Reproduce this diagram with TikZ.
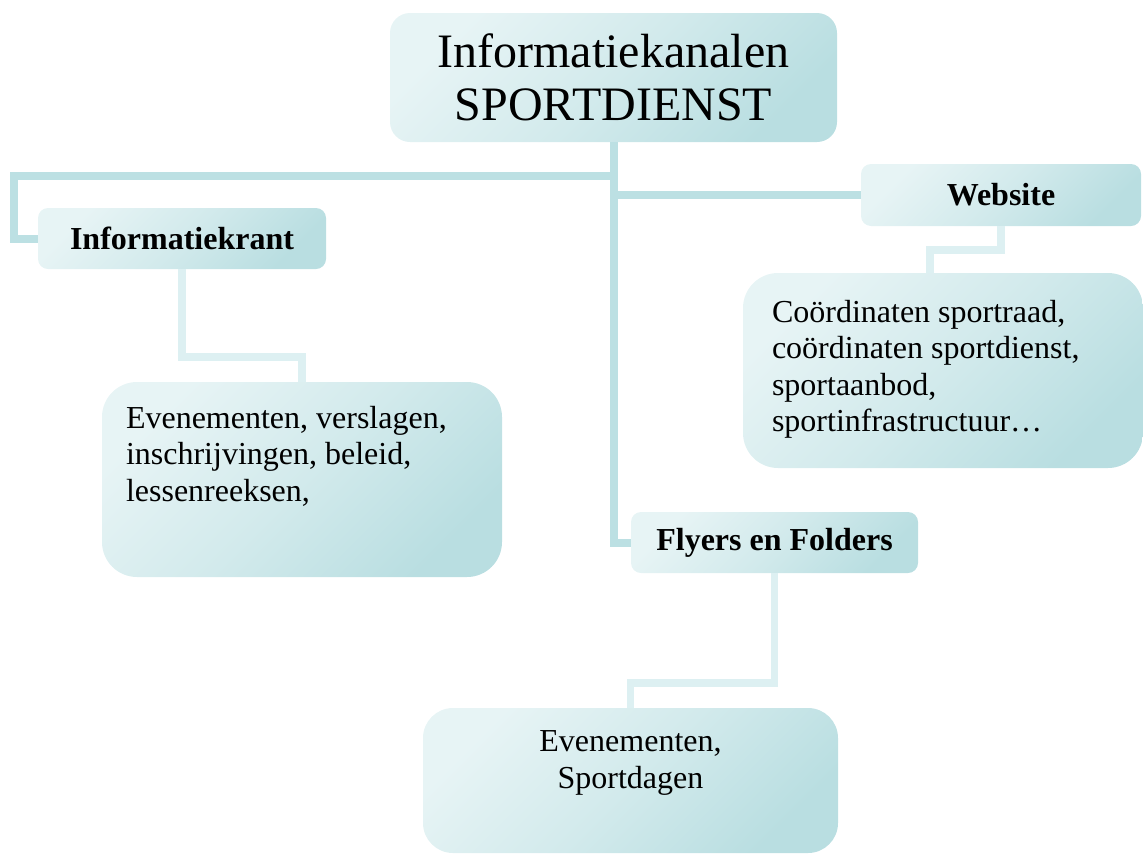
\documentclass[tikz,border=0pt]{standalone}
\usepackage{fontspec}
\setmainfont{Liberation Serif}
\definecolor{boxlight}{HTML}{E7F4F5}
\definecolor{boxdark}{HTML}{B9DEE1}
\definecolor{trunkline}{HTML}{BCE0E3}
\definecolor{leafline}{HTML}{DDF0F2}

\begin{document}
\begin{tikzpicture}[x=1pt,y=-1pt,
  chanbox/.style={rounded corners=#1, top color=boxlight, bottom color=boxdark,
    middle color=boxlight!55!boxdark, shading angle=45, inner sep=0pt},
  chanbox/.default=10pt,
  headtext/.style={font=\fontsize{32}{37}\selectfont\bfseries},
  bodytext/.style={font=\fontsize{32}{36.5}\selectfont, inner sep=0pt, align=left},
  trunk/.style={trunkline, line width=8pt},
  twig/.style={leafline, line width=7.5pt}]
\useasboundingbox (0,0) rectangle (1143,855);
%\draw[step=50pt,gray,very thin] (0,0) grid (1143,855); %background grid

% top node
\node[chanbox=20pt, minimum width=447pt, minimum height=129pt, align=center,
  font=\fontsize{48}{53}\selectfont] (top) at (613.5,77.5)
  {Informatiekanalen\\SPORTDIENST};

% channels
\node[chanbox, headtext, minimum width=288pt, minimum height=61pt] (krant) at (182,238.5) {Informatiekrant};
\node[chanbox, headtext, minimum width=280pt, minimum height=62pt] (web) at (1001,195) {Website};
\node[chanbox, headtext, minimum width=287pt, minimum height=61pt] (flyers) at (774.5,542.5) {Flyers en Folders};

% contents
\node[chanbox=35pt, minimum width=400pt, minimum height=195pt] (evt) at (302,479.5) {};
\node[bodytext, anchor=north west] (evttxt) at ([xshift=24pt,yshift=-24pt]evt.north west)
  {Evenementen, verslagen,\\inschrijvingen, beleid,\\lessenreeksen,};
\node[chanbox=35pt, minimum width=400pt, minimum height=195pt] (coord) at (943,370.5) {};
\node[bodytext, anchor=north west] (coordtxt) at ([xshift=29pt,yshift=-27pt]coord.north west)
  {Coördinaten sportraad,\\coördinaten sportdienst,\\sportaanbod,\\sportinfrastructuur…};
\node[chanbox=30pt, minimum width=415pt, minimum height=145pt] (sport) at (630.5,780.5) {};
\node[bodytext, align=center, anchor=north] (sporttxt) at ([yshift=-23pt]sport.north)
  {Evenementen,\\Sportdagen};

% connectors
\coordinate (lturn) at (14,176);
\draw[trunk] (top.south) -- (top.south |- flyers.west) -- (flyers.west);
\draw[trunk] (top.south |- lturn) -- (lturn) |- (krant.west);
\draw[trunk] (top.south |- web.west) -- (web.west);

\coordinate (kturn) at (302,357);
\coordinate (wturn) at (930,250);
\coordinate (fturn) at (630.5,683);
\draw[twig] (krant.south) |- (kturn) -- (evt.north);
\draw[twig] (web.south) |- (wturn) -- (wturn |- coord.north);
\draw[twig] (flyers.south) |- (fturn) -- (sport.north);
\end{tikzpicture}
\end{document}
